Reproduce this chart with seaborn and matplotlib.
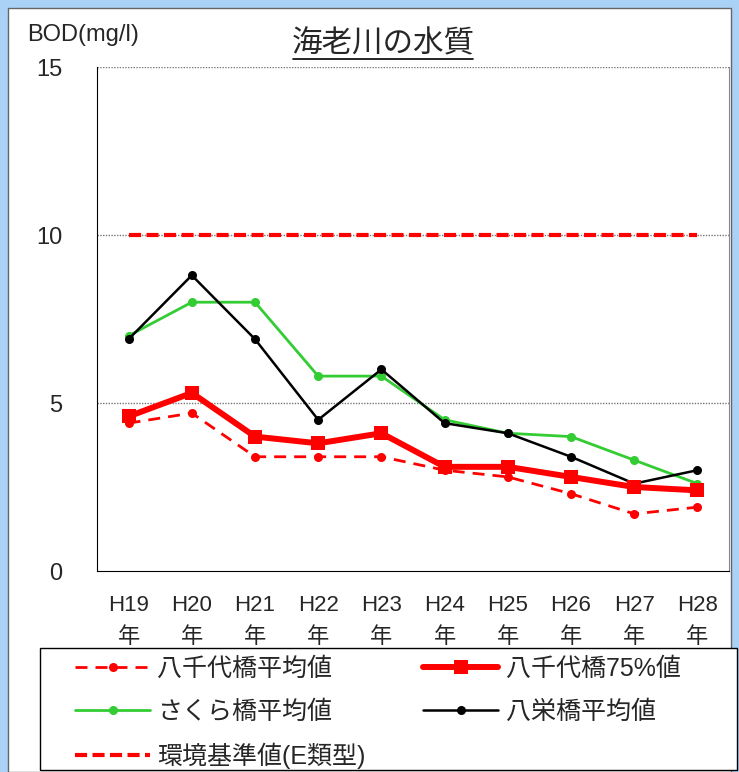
import matplotlib
matplotlib.use('Agg')
import matplotlib.pyplot as plt
import seaborn as sns
import pandas as pd
from matplotlib.patches import Rectangle
from matplotlib.lines import Line2D
from matplotlib.ticker import FixedLocator

# data
years = ['H19', 'H20', 'H21', 'H22', 'H23', 'H24', 'H25', 'H26', 'H27', 'H28']
yachiyo_mean = [4.4, 4.7, 3.4, 3.4, 3.4, 3.0, 2.8, 2.3, 1.7, 1.9]
yachiyo_75 = [4.6, 5.3, 4.0, 3.8, 4.1, 3.1, 3.1, 2.8, 2.5, 2.4]
sakura_mean = [7.0, 8.0, 8.0, 5.8, 5.8, 4.5, 4.1, 4.0, 3.3, 2.6]
yaei_mean = [6.9, 8.8, 6.9, 4.5, 6.0, 4.4, 4.1, 3.4, 2.6, 3.0]
standard = [10] * len(years)

df = pd.DataFrame({'pos': range(len(years)),
                   'mean': yachiyo_mean, 'p75': yachiyo_75,
                   'sakura': sakura_mean, 'yaei': yaei_mean, 'std': standard})

sns.set_style('white')
plt.rcParams['font.family'] = ['Liberation Sans', 'Noto Sans CJK JP', 'DejaVu Sans']

fig = plt.figure(figsize=(7.39, 7.72), dpi=100)
fig.patch.set_facecolor('#aad2f6')
fig.add_artist(Rectangle((8/739, 0), 723/739, 764/772, transform=fig.transFigure,
                         facecolor='white', edgecolor='#666666', lw=1, zorder=0))

ax = fig.add_axes([97/739, 1 - 571/772, 632/739, 504/772])
ax.set_facecolor('white')

sns.lineplot(data=df, x='pos', y='std', ax=ax, color='#ff0000', lw=3, dashes=False,
             label='環境基準値(E類型)')
ax.lines[-1].set_linestyle((0, (2.9, 1.3)))
sns.lineplot(data=df, x='pos', y='sakura', ax=ax, color='#33cc33', lw=2,
             marker='o', markersize=6.5, markeredgewidth=0, label='さくら橋平均値')
sns.lineplot(data=df, x='pos', y='yaei', ax=ax, color='black', lw=1.8,
             marker='o', markersize=6.5, markeredgewidth=0, label='八栄橋平均値')
sns.lineplot(data=df, x='pos', y='p75', ax=ax, color='#ff0000', lw=4.3,
             marker='s', markersize=10, markeredgewidth=0, label='八千代橋75%値')
sns.lineplot(data=df, x='pos', y='mean', ax=ax, color='#ff0000', lw=2,
             marker='o', markersize=6.5, markeredgewidth=0, label='八千代橋平均値')
ax.lines[-1].set_linestyle((0, (4.3, 2.9)))

ax.set_xlim(-0.5, len(years) - 0.5)
ax.set_ylim(0, 15)
ax.set_yticks([0, 5, 10, 15])
ax.set_xticks(range(len(years)))
ax.set_xticklabels([y + '\n年' for y in years], linespacing=1.7)
ax.xaxis.set_minor_locator(FixedLocator([i + 0.5 for i in range(len(years) - 1)]))
ax.tick_params(axis='x', which='major', length=0, pad=17, labelsize=16)
ax.tick_params(axis='x', which='minor', direction='in', length=6, width=0.8, color='black')
ax.tick_params(axis='y', direction='in', length=7, width=0.8, color='black', pad=25, labelsize=17)
for v in [5, 10, 15]:
    ax.axhline(v, color='#777777', lw=1, ls=(0, (1, 1)), zorder=0)
ax.set_xlabel('')
ax.set_ylabel('')
ax.spines['top'].set_visible(False)
ax.spines['left'].set_color('black')
ax.spines['bottom'].set_color('black')
ax.spines['right'].set_color('#888888')
ax.legend_.remove()

# title with underline, and unit label
fig.text(383/739, 1 - 44/772, '海老川の水質', ha='center', va='center', fontsize=22)
fig.add_artist(Line2D([293/739, 473/739], [1 - 59/772, 1 - 59/772], color='black', lw=1.2))
fig.text(27/739, 1 - 35/772, 'BOD(mg/l)', ha='left', va='center', fontsize=17)

# legend frame drawn separately so the columns sit where they do in the reference
fig.add_artist(Rectangle((40/739, 1 - 770/772), 697/739, 122/772, transform=fig.transFigure,
                         facecolor='white', edgecolor='black', lw=1, zorder=1))
handles, labels = ax.get_legend_handles_labels()
order = ['八千代橋平均値', 'さくら橋平均値', '環境基準値(E類型)', '八千代橋75%値', '八栄橋平均値']
hmap = dict(zip(labels, handles))
leg = fig.legend([hmap[k] for k in order], order, ncol=2, loc='upper left',
                 bbox_to_anchor=(70/739, 1 - 652/772),
                 fontsize=18, handlelength=3.0, handletextpad=0.3, labelspacing=0.75,
                 columnspacing=2.3, borderpad=0.2, borderaxespad=0, frameon=False)
leg.set_zorder(2)

fig.savefig('out.png', dpi=100, facecolor=fig.get_facecolor())
